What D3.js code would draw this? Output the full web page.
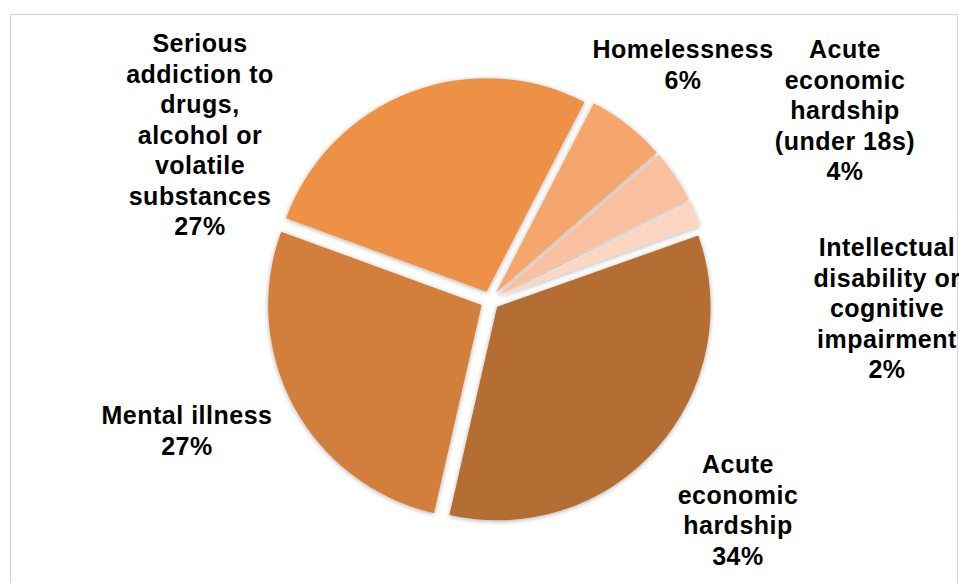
<!DOCTYPE html>
<html>
<head>
<meta charset="utf-8">
<script src="https://cdn.jsdelivr.net/npm/d3@7"></script>
<style>
  html, body { margin: 0; padding: 0; background: #fff; }
  svg { display: block; }
  .lbl { font-family: "Liberation Sans", Arial, sans-serif; font-weight: bold; font-size: 25px; letter-spacing: 0.5px; fill: #000; }
</style>
</head>
<body>
<svg id="chart" width="959" height="583"></svg>
<script>
// Categories in drawing order (clockwise, starting at the right-hand side)
const categories = [
  "Acute economic hardship",
  "Mental illness",
  "Serious addiction to drugs, alcohol or volatile substances",
  "Homelessness",
  "Acute economic hardship (under 18s)",
  "Intellectual disability or cognitive impairment"
];
// Share of each category, in percent
const shares = [34, 27, 27, 6, 4, 2];
// Wrapped label text for each category
const labelLines = [
  ["Acute", "economic", "hardship"],
  ["Mental illness"],
  ["Serious", "addiction to", "drugs,", "alcohol or", "volatile", "substances"],
  ["Homelessness"],
  ["Acute", "economic", "hardship", "(under 18s)"],
  ["Intellectual", "disability or", "cognitive", "impairment"]
];
const sliceColors = ["#B46D33", "#D27F3A", "#ED9146", "#F5A66C", "#F8C09E", "#FAD6C3"];

const W = 959, H = 583;
const svg = d3.select("#chart");

// Chart area frame
svg.append("rect")
  .attr("x", 10.5).attr("y", 14.5)
  .attr("width", 947).attr("height", 600)
  .attr("fill", "#fff").attr("stroke", "#D9D9D9").attr("stroke-width", 1.3);

// Soft shadow under the slices
const defs = svg.append("defs");
const f = defs.append("filter").attr("id", "shadow")
  .attr("x", "-10%").attr("y", "-10%").attr("width", "120%").attr("height", "120%");
f.append("feGaussianBlur").attr("in", "SourceAlpha").attr("stdDeviation", 2.6).attr("result", "b");
f.append("feOffset").attr("in", "b").attr("dx", 0).attr("dy", 1).attr("result", "o");
f.append("feComponentTransfer").attr("in", "o").attr("result", "s")
  .append("feFuncA").attr("type", "linear").attr("slope", 0.32);
const m = f.append("feMerge");
m.append("feMergeNode").attr("in", "s");
m.append("feMergeNode").attr("in", "SourceGraphic");

const cx = 490, cy = 300.5, radius = 213.5, explode = 9.5;
const startDeg = 70.5;

const pie = d3.pie()
  .sort(null)
  .value(d => d)
  .startAngle(startDeg * Math.PI / 180)
  .endAngle((startDeg + 360) * Math.PI / 180);
const arcs = pie(shares);
const arc = d3.arc().innerRadius(0).outerRadius(radius);

const g = svg.append("g")
  .attr("transform", `translate(${cx},${cy})`)
  .attr("filter", "url(#shadow)");

g.selectAll("path")
  .data(arcs)
  .join("path")
  .attr("d", arc)
  .attr("fill", (d, i) => sliceColors[i])
  .attr("transform", d => {
    const mid = (d.startAngle + d.endAngle) / 2;
    return `translate(${Math.sin(mid) * explode},${-Math.cos(mid) * explode})`;
  });

// Label anchors: centre x and first baseline y
const labelAnchor = [
  [738, 473],
  [187, 424],
  [200, 52],
  [683, 58],
  [845, 58],
  [887, 256]
];
const lineH = 30.5;

arcs.forEach((d, i) => {
  const lines = labelLines[i].concat([d3.format(".0f")(shares[i]) + "%"]);
  const t = svg.append("text")
    .attr("class", "lbl")
    .attr("text-anchor", "middle");
  lines.forEach((ln, k) => {
    t.append("tspan")
      .attr("x", labelAnchor[i][0])
      .attr("y", labelAnchor[i][1] + k * lineH)
      .text(ln);
  });
});
</script>
</body>
</html>
